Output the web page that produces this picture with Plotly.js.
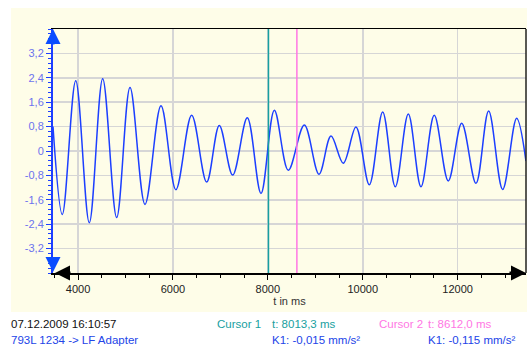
<!DOCTYPE html>
<html>
<head>
<meta charset="utf-8">
<script src="https://cdn.plot.ly/plotly-3.0.1.min.js"></script>
<style>html,body{margin:0;padding:0;background:#fff;}#chart{width:527px;height:350px;}</style>
</head>
<body>
<div id="chart"></div>
<script>
// Signal extrema (time in ms, acceleration)
var timeMs = [3473, 3669, 3952, 4238, 4520, 4815, 5096, 5412, 5749, 6062, 6395, 6711, 6977, 7259, 7567, 7856, 8137, 8431, 8769, 9078, 9331, 9590, 9857, 10138, 10420, 10686, 10960, 11227, 11507, 11802, 12085, 12386, 12653, 12948, 13243, 13439];
var k1Values = [0.8, -2.08, 2.30, -2.35, 2.37, -2.18, 2.08, -1.75, 1.48, -1.27, 1.17, -1.02, 0.84, -0.79, 1.09, -1.39, 1.34, -0.63, 0.85, -0.76, 0.49, -0.40, 0.79, -1.11, 1.28, -1.17, 1.21, -1.17, 1.17, -0.98, 0.91, -1.06, 1.31, -1.26, 1.07, -0.33];

var xTickVals = [4000, 6000, 8000, 10000, 12000];
var xTickText = ['4000', '6000', '8000', '10000', '12000'];
var yTickVals = [-3.2, -2.4, -1.6, -0.8, 0, 0.8, 1.6, 2.4, 3.2];
var yTickText = ['-3,2', '-2,4', '-1,6', '-0,8', '0', '0,8', '1,6', '2,4', '3,2'];

var cursorNames = ['Cursor 1', 'Cursor 2'];
var cursorTimes = [8013.3, 8612.0];
var cursorK1 = ['-0,015', '-0,115'];
var headerDate = '07.12.2009 16:10:57';
var headerDevice = '793L 1234 -> LF Adapter';

var cream = '#fefde8';
var cursorColors = ['#17a0a0', '#ff77e4'];

// pixel helpers (plot area: left 53, right 526, top 29, bottom 273)
function px(x) { return (x - 53) / 473; }
function py(y) { return (273 - y) / 244; }

var trace = {
  x: timeMs, y: k1Values, type: 'scatter', mode: 'lines',
  line: {color: '#1c3fff', width: 1.5, shape: 'spline', smoothing: 1},
  hoverinfo: 'skip'
};

var shapes = [
  {type: 'rect', xref: 'paper', yref: 'paper', x0: px(11), x1: px(528), y0: py(312), y1: py(8),
   fillcolor: cream, line: {width: 0}, layer: 'below'},
  {type: 'line', xref: 'paper', yref: 'paper', x0: 1, x1: 1, y0: 0, y1: 1,
   line: {color: '#222', width: 1.5}}
];
for (var i = 0; i < cursorTimes.length; i++) {
  shapes.push({type: 'line', xref: 'x', yref: 'paper', x0: cursorTimes[i], x1: cursorTimes[i], y0: 0, y1: 1,
    line: {color: cursorColors[i], width: 1.5}});
}

var fnt = 'Liberation Sans, Arial, sans-serif';
function txt(x, y, s, color, anchor) {
  return {xref: 'paper', yref: 'paper', x: x, y: y, text: s, showarrow: false,
    xanchor: anchor || 'left', yanchor: 'middle', borderpad: 0, borderwidth: 0,
    font: {family: fnt, size: 11.5, color: color}};
}
function arrow(x, y, ax, ay, color) {
  return {xref: 'paper', yref: 'paper', x: x, y: y, ax: ax, ay: ay, text: '',
    showarrow: true, arrowhead: 2, arrowsize: 1, arrowwidth: 3, arrowcolor: color};
}

var annotations = [
  txt(px(11), py(324), headerDate, '#111'),
  txt(px(11), py(340), headerDevice, '#2244e8'),
  txt(px(261), py(324), cursorNames[0], cursorColors[0], 'right'),
  txt(px(271.5), py(324), 't: ' + cursorTimes[0].toFixed(1).replace('.', ',') + ' ms', cursorColors[0]),
  txt(px(271.5), py(340), 'K1: ' + cursorK1[0] + ' mm/s²', '#2244e8'),
  txt(px(379), py(324), cursorNames[1], cursorColors[1]),
  txt(px(428), py(324), 't: ' + cursorTimes[1].toFixed(1).replace('.', ',') + ' ms', cursorColors[1]),
  txt(px(428), py(340), 'K1: ' + cursorK1[1] + ' mm/s²', '#2244e8'),
  arrow(0, 1, 0, 17, '#0a4cff'),
  arrow(0, py(272), 0, -16, '#0a4cff'),
  arrow(px(55), 0, 17, 0, '#000'),
  arrow(px(527), 0, -19, 0, '#000')
];

var layout = {
  width: 527, height: 350,
  margin: {l: 53, r: 1, t: 29, b: 77, pad: 0},
  paper_bgcolor: '#ffffff', plot_bgcolor: cream,
  showlegend: false,
  font: {family: fnt, size: 11, color: '#222'},
  xaxis: {
    range: [3473, 13440], tickmode: 'array', tickvals: xTickVals, ticktext: xTickText,
    ticks: 'outside', ticklen: 5, tickcolor: '#000', tickwidth: 1,
    showline: true, linecolor: '#000', linewidth: 1.5, mirror: true,
    showgrid: true, gridcolor: '#d6d6d6', gridwidth: 1.5, zeroline: false,
    minor: {tickmode: 'linear', tick0: 0, dtick: 500, ticks: 'outside', ticklen: 3, tickcolor: '#000', showgrid: false},
    tickfont: {family: fnt, size: 11, color: '#222'},
    title: {text: 't in ms', font: {family: fnt, size: 11, color: '#333'}, standoff: 3}
  },
  yaxis: {
    range: [-4, 4], tickmode: 'array', tickvals: yTickVals, ticktext: yTickText,
    ticks: 'outside', ticklen: 5, tickcolor: '#1c3fff', tickwidth: 1,
    showline: true, linecolor: '#1c3fff', linewidth: 2, mirror: false,
    showgrid: true, gridcolor: '#d6d6d6', gridwidth: 1.5, zeroline: false,
    minor: {tickmode: 'linear', tick0: 0, dtick: 0.16, ticks: 'outside', ticklen: 3, tickcolor: '#1c3fff', showgrid: false},
    tickfont: {family: fnt, size: 11, color: '#6c72ee'}
  },
  shapes: shapes,
  annotations: annotations
};

Plotly.newPlot('chart', [trace], layout, {displayModeBar: false, staticPlot: true});
</script>
</body>
</html>
